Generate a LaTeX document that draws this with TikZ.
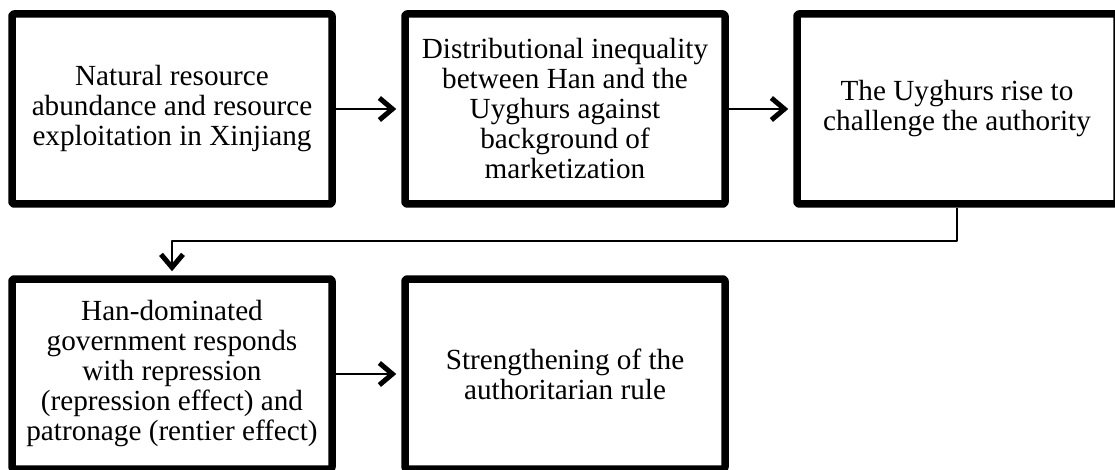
\documentclass[tikz,border=0pt]{standalone}
\usepackage{fontspec}
\setmainfont{Liberation Serif}
\usetikzlibrary{arrows.meta}
\begin{document}
\begin{tikzpicture}[x=1pt,y=-1pt,line join=round,
  box/.style={draw,line width=7.5pt,rounded corners=2pt,fill=white,
    minimum width=320pt,minimum height=190pt,align=center,
    font=\fontsize{29.2}{30}\selectfont},
  flow/.style={line width=1.5pt,-{Straight Barb[length=13pt,width=22pt,line width=5pt]}},
]
\useasboundingbox (0,0) rectangle (1115,470);
%%
  \node (Res) at (172,109) [box] {Natural resource\\abundance and resource\\exploitation in Xinjiang};
  \node (Ineq) at (565,109) [box] {Distributional inequality\\between Han and the\\Uyghurs against\\background of\\marketization};
  \node (Rise) at (957,109) [box] {The Uyghurs rise to\\challenge the authority};
  \node (Gov) at (172,374) [box] {Han-dominated\\government responds\\with repression\\(repression effect) and\\patronage (rentier effect)};
  \node (Rule) at (565,374) [box] {Strengthening of the\\authoritarian rule};
  \draw [flow,shorten >=5pt] (Res) -- (Ineq);
  \draw [flow,shorten >=5pt] (Ineq) -- (Rise);
  \draw [flow,shorten >=4pt] (Rise.south) -- ++(0,33) -| (Gov.north);
  \draw [flow,shorten >=5pt] (Gov) -- (Rule);
%
\end{tikzpicture}
\end{document}
